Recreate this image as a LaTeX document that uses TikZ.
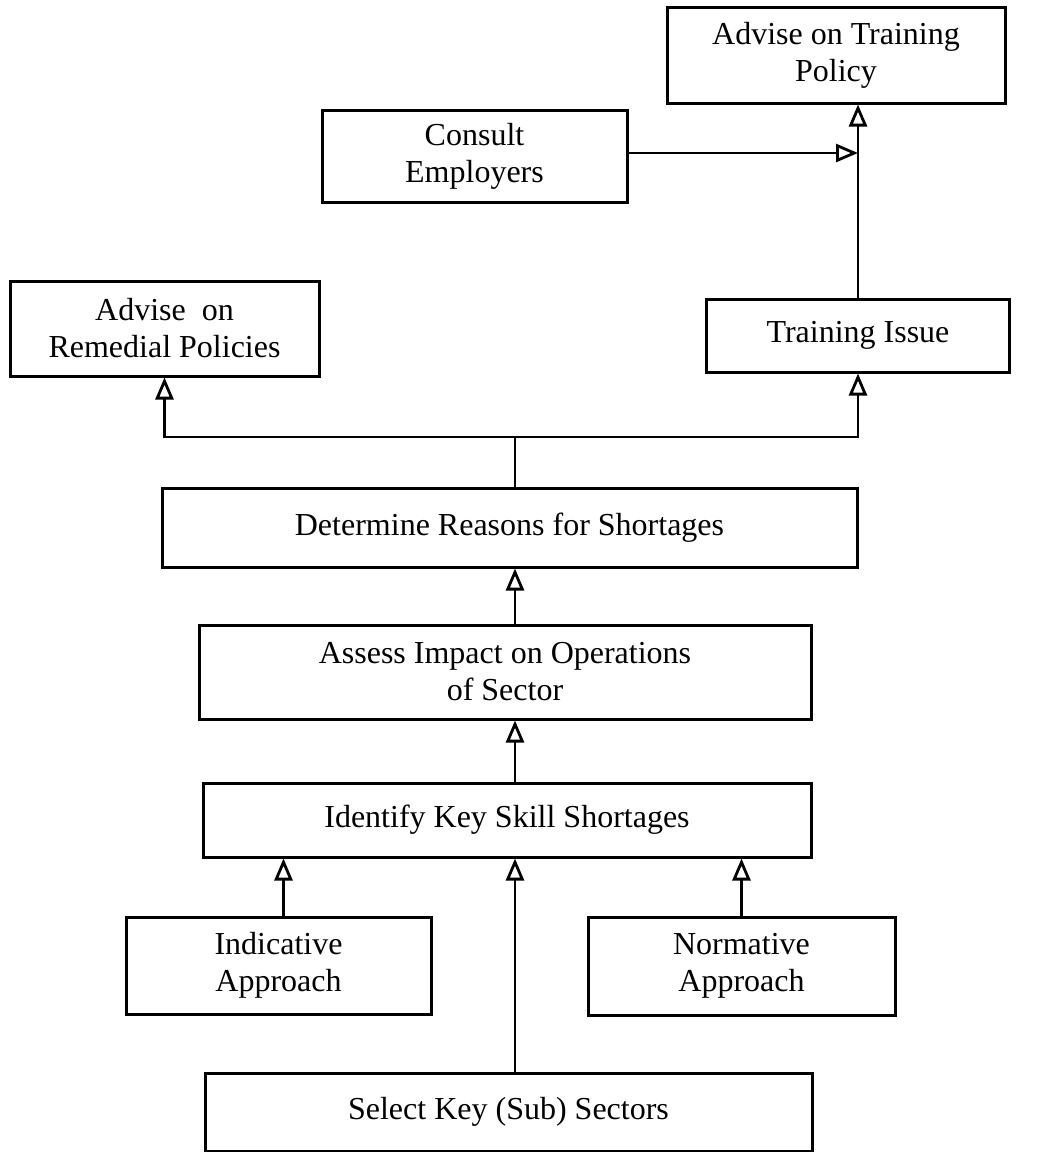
\documentclass[tikz,border=0pt]{standalone}
\usepackage{fontspec}
\setmainfont{Liberation Serif}
\usepackage{tikz}
\usetikzlibrary{arrows.meta,positioning}

\begin{document}
\begin{tikzpicture}[x=1pt,y=-1pt,
  boxstyle/.style={draw,rectangle,line width=3pt,align=center,inner sep=0pt,font=\fontsize{32}{37}\selectfont},
  arr/.style={line width=2.8pt,-{Triangle[open,length=22pt,width=18pt,fill=white]}},
  lin/.style={line width=2.8pt}]
\useasboundingbox (0,0) rectangle (1045,1152);
\node[boxstyle,minimum width=338pt,minimum height=96pt] (trainpol) at (836,55) {Advise on Training\\Policy};
\node[boxstyle,minimum width=305pt,minimum height=92pt] (consult) at (474.5,156) {Consult\\Employers};
\node[boxstyle,minimum width=309pt,minimum height=95pt] (remedial) at (164.5,328.5) {Advise\ \ on\\Remedial Policies};
\node[boxstyle,minimum width=303pt,minimum height=73pt] (trainiss) at (858,335.5) {Training Issue};
\node[boxstyle,minimum width=695pt,minimum height=79pt] (determine) at (509.5,527.5) {Determine Reasons for Shortages};
\node[boxstyle,minimum width=612pt,minimum height=94pt] (assess) at (505,672) {Assess Impact on Operations\\of Sector};
\node[boxstyle,minimum width=608pt,minimum height=74pt] (identify) at (507,820) {Identify Key Skill Shortages};
\node[boxstyle,minimum width=305pt,minimum height=97pt] (indicative) at (278.5,965.5) {Indicative\\Approach};
\node[boxstyle,minimum width=307pt,minimum height=98pt] (normative) at (741.5,966) {Normative\\Approach};
\node[boxstyle,minimum width=607pt,minimum height=78pt] (select) at (508.5,1112) {Select Key (Sub) Sectors};
\coordinate (split) at (515,437);
% upper part
\draw[arr] (trainiss.north) -- (trainiss.north |- trainpol.south);
\draw[arr] ([yshift=3pt]consult.east) -- ([yshift=3pt]consult.east -| trainiss.north);
\draw[lin] (determine.north -| split) -- (split);
\draw[arr] (split) -| (remedial.south);
\draw[arr] (split) -| (trainiss.south);
% main chain
\draw[arr] (assess.north -| split) -- (determine.south -| split);
\draw[arr] (identify.north -| split) -- (assess.south -| split);
\draw[arr] ([xshift=5pt]indicative.north) -- ([xshift=5pt]indicative.north |- identify.south);
\draw[arr] (normative.north) -- (normative.north |- identify.south);
\draw[arr] (select.north -| split) -- (identify.south -| split);
\end{tikzpicture}
\end{document}
